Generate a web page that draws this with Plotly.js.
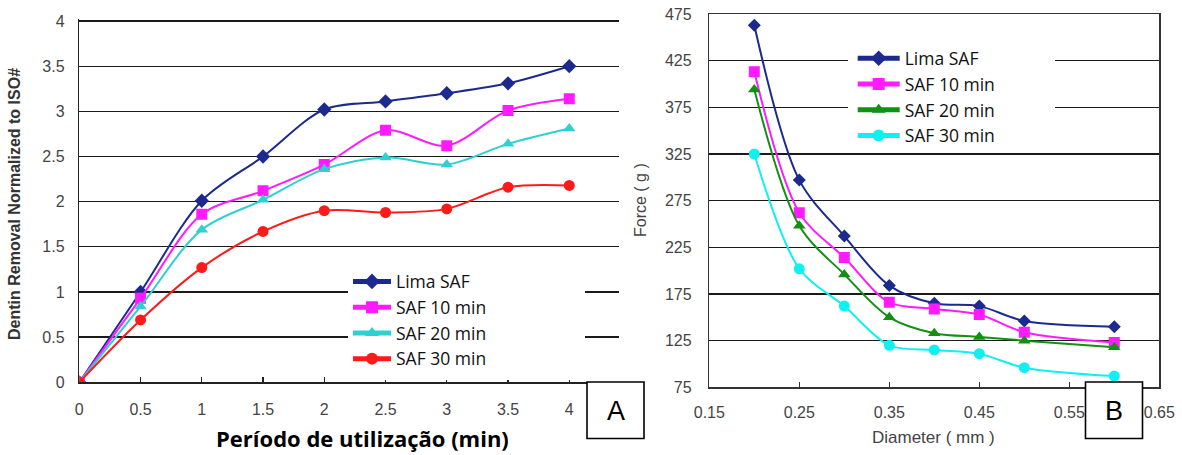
<!DOCTYPE html>
<html>
<head>
<meta charset="utf-8">
<script src="https://cdn.plot.ly/plotly-3.0.1.min.js"></script>
<style>html,body{margin:0;padding:0;background:#fff;}#chart{width:1182px;height:455px;}</style>
</head>
<body>
<div id="chart"></div>
<script>
// ---- Data: panel A (dentin removal vs usage period) ----
const periodMin = [0, 0.5, 1, 1.5, 2, 2.5, 3, 3.5, 4];
const limaSafA  = [0, 1.00, 2.01, 2.50, 3.02, 3.11, 3.20, 3.31, 3.50];
const saf10A    = [0, 0.93, 1.86, 2.12, 2.41, 2.79, 2.62, 3.01, 3.14];
const saf20A    = [0, 0.84, 1.69, 2.02, 2.36, 2.49, 2.41, 2.64, 2.81];
const saf30A    = [0, 0.69, 1.27, 1.67, 1.90, 1.88, 1.92, 2.16, 2.18];

// ---- Data: panel B (force vs diameter) ----
const diameterMm = [0.20, 0.25, 0.30, 0.35, 0.40, 0.45, 0.50, 0.60];
const limaSafB   = [463, 297, 237, 184, 165, 162, 146, 140];
const saf10B     = [413, 262, 214, 166, 159, 153, 134, 123];
const saf20B     = [394, 248, 196, 150, 133, 129, 125, 118];
const saf30B     = [325, 202, 162, 120, 115, 111, 96, 87];

const seriesNames = ['Lima SAF', 'SAF 10 min', 'SAF 20 min', 'SAF 30 min'];

const W = 1182, H = 455;
const px = v => v / W;
const py = v => 1 - v / H;

function tr(x, y, name, color, symbol, size, xa, ya, leg) {
  return {
    type: 'scatter', mode: 'lines+markers', x: x, y: y, name: name,
    xaxis: xa, yaxis: ya, legend: leg,
    line: {color: color, width: 2, shape: 'spline', smoothing: 0.9},
    marker: {color: color, symbol: symbol, size: size},
    hoverinfo: 'skip'
  };
}

const data = [
  tr(periodMin, limaSafA, seriesNames[0], '#1c2a8e', 'diamond', 11, 'x', 'y', 'legend'),
  tr(periodMin, saf10A, seriesNames[1], '#ff1aff', 'square', 11, 'x', 'y', 'legend'),
  tr(periodMin, saf20A, seriesNames[2], '#2ed0d0', 'triangle-up', 11, 'x', 'y', 'legend'),
  tr(periodMin, saf30A, seriesNames[3], '#ff1a1a', 'circle', 11, 'x', 'y', 'legend'),
  tr(diameterMm, limaSafB, seriesNames[0], '#1c2a8e', 'diamond', 10, 'x2', 'y2', 'legend2'),
  tr(diameterMm, saf10B, seriesNames[1], '#ff1aff', 'square', 11, 'x2', 'y2', 'legend2'),
  tr(diameterMm, saf20B, seriesNames[2], '#129012', 'triangle-up', 11, 'x2', 'y2', 'legend2'),
  tr(diameterMm, saf30B, seriesNames[3], '#10f0f0', 'circle', 11, 'x2', 'y2', 'legend2')
];

const tickFont = {family: 'Liberation Sans, Arial, sans-serif', size: 16, color: '#444'};
const gridColor = '#1a1a1a';
const legendFont = {family: 'Open Sans, sans-serif', size: 17.5, color: '#111'};

const layout = {
  width: W, height: H,
  margin: {l: 0, r: 0, t: 0, b: 0},
  paper_bgcolor: '#fff', plot_bgcolor: '#fff',
  showlegend: true,
  xaxis: {
    domain: [px(79.3), px(619)], range: [0, 4.406],
    dtick: 0.5, tick0: 0, showgrid: false, zeroline: false,
    showline: true, linecolor: '#222', linewidth: 1.5,
    ticks: 'inside', ticklen: 5, tickwidth: 1.3, tickcolor: '#222',
    tickfont: tickFont, ticklabelstandoff: 12
  },
  yaxis: {
    domain: [py(382.3), py(19.2)], range: [0, 4.02],
    dtick: 0.5, tick0: 0, showgrid: true, gridcolor: gridColor, gridwidth: 1.3,
    zeroline: false, showline: true, linecolor: '#222', linewidth: 1.5,
    ticks: '', tickfont: tickFont, ticklabelstandoff: 10
  },
  xaxis2: {
    domain: [px(709.3), px(1159.3)], range: [0.15, 0.65], anchor: 'y2',
    dtick: 0.1, tick0: 0.15, showgrid: false, zeroline: false,
    showline: true, mirror: true, linecolor: '#333', linewidth: 1.5,
    ticks: 'inside', ticklen: 5, tickwidth: 1.3, tickcolor: '#333',
    tickfont: tickFont, ticklabelstandoff: 10
  },
  yaxis2: {
    domain: [py(387.3), py(14)], range: [75, 475], anchor: 'x2',
    dtick: 50, tick0: 75, showgrid: true, gridcolor: gridColor, gridwidth: 1.3,
    zeroline: false, showline: true, mirror: true, linecolor: '#333', linewidth: 1.5,
    ticks: '', tickfont: tickFont, ticklabelstandoff: 13
  },
  legend: {
    x: px(348), y: py(263.5), xanchor: 'left', yanchor: 'top',
    bgcolor: 'rgba(255,255,255,0)', borderwidth: 0,
    font: legendFont, itemwidth: 38, itemsizing: 'constant', traceorder: 'normal'
  },
  legend2: {
    x: px(852.7), y: py(40.3), xanchor: 'left', yanchor: 'top',
    bgcolor: 'rgba(255,255,255,0)', borderwidth: 0,
    font: legendFont, itemwidth: 42, itemsizing: 'constant', traceorder: 'normal'
  },
  shapes: [
    // white legend backgrounds interrupting the gridlines
    {type: 'rect', xref: 'paper', yref: 'paper', x0: px(348), x1: px(585), y0: py(380), y1: py(262),
     fillcolor: '#fff', line: {width: 0}, layer: 'above'},
    {type: 'rect', xref: 'paper', yref: 'paper', x0: px(848), x1: px(1055), y0: py(150), y1: py(40),
     fillcolor: '#fff', line: {width: 0}, layer: 'above'},
    // panel label boxes
    {type: 'rect', xref: 'paper', yref: 'paper', x0: px(587), x1: px(644), y0: py(438.5), y1: py(382),
     fillcolor: '#fff', line: {color: '#000', width: 1.6}, layer: 'above'},
    {type: 'rect', xref: 'paper', yref: 'paper', x0: px(1085.5), x1: px(1142.5), y0: py(438.5), y1: py(382),
     fillcolor: '#fff', line: {color: '#000', width: 1.6}, layer: 'above'}
  ],
  annotations: [
    {text: 'A', xref: 'paper', yref: 'paper', x: px(616), y: py(411), xanchor: 'center', yanchor: 'middle',
     showarrow: false, font: {family: 'Liberation Sans, Arial, sans-serif', size: 27, color: '#000'}},
    {text: 'B', xref: 'paper', yref: 'paper', x: px(1114), y: py(411), xanchor: 'center', yanchor: 'middle',
     showarrow: false, font: {family: 'Liberation Sans, Arial, sans-serif', size: 27, color: '#000'}},
    {text: 'Dentin Removal Normalized to ISO#', xref: 'paper', yref: 'paper', x: px(15), y: py(204),
     xanchor: 'center', yanchor: 'middle', textangle: -90, showarrow: false,
     font: {family: 'Liberation Sans, Arial, sans-serif', size: 16, color: '#333', weight: 'bold'}},
    {text: 'Período de utilização (min)', xref: 'paper', yref: 'paper', x: px(362), y: py(438),
     xanchor: 'center', yanchor: 'middle', showarrow: false,
     font: {family: 'Open Sans, sans-serif', size: 22, color: '#000', weight: 'bold'}},
    {text: 'Force ( g )', xref: 'paper', yref: 'paper', x: px(640), y: py(200),
     xanchor: 'center', yanchor: 'middle', textangle: -90, showarrow: false,
     font: {family: 'Liberation Sans, Arial, sans-serif', size: 16, color: '#444'}},
    {text: 'Diameter ( mm )', xref: 'paper', yref: 'paper', x: px(933), y: py(437),
     xanchor: 'center', yanchor: 'middle', showarrow: false,
     font: {family: 'Liberation Sans, Arial, sans-serif', size: 17, color: '#444'}}
  ]
};

Plotly.newPlot('chart', data, layout, {displayModeBar: false, staticPlot: true});
</script>
</body>
</html>
